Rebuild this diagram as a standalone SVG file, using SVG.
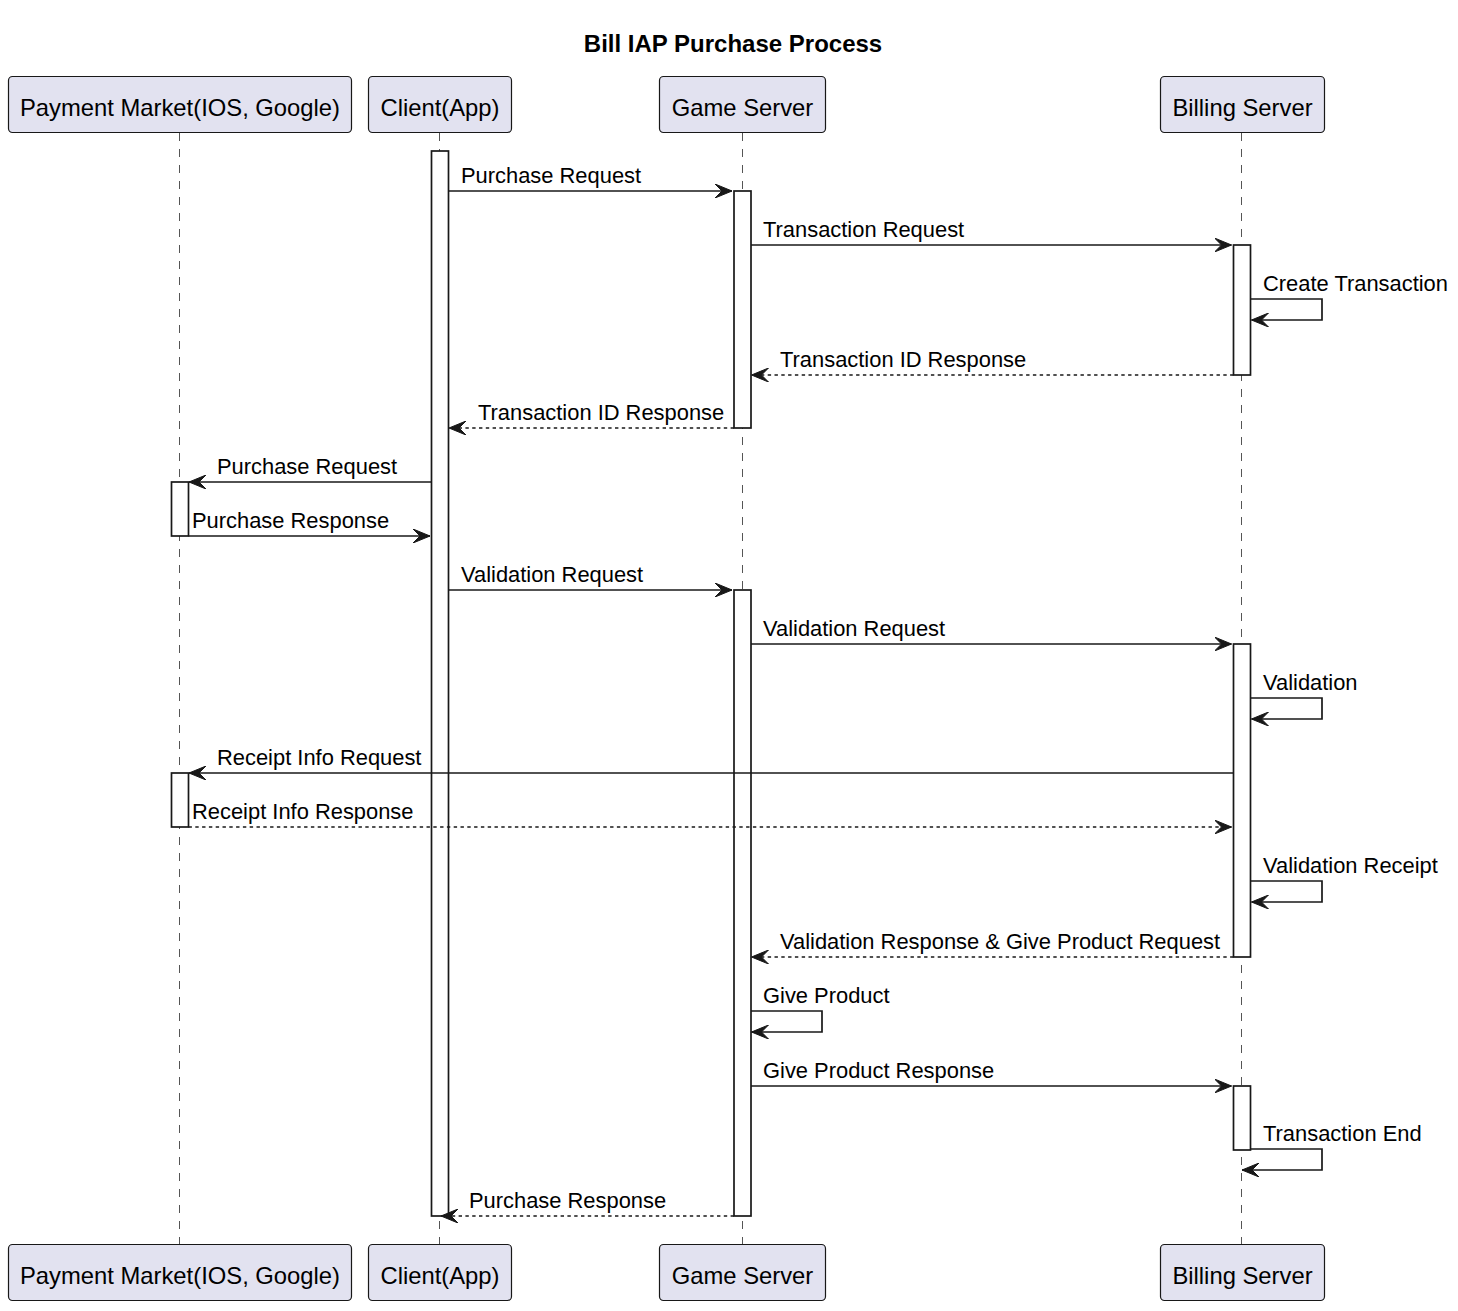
<svg xmlns="http://www.w3.org/2000/svg" width="1458" height="1311" viewBox="0 0 1458 1311">
<defs>
<style>
.part rect{fill:#E2E2F0;stroke:#181818;stroke-width:1.2}
.part text{font-family:"Liberation Sans",Arial,sans-serif;font-size:23.8px;fill:#000;text-anchor:middle}
.life{stroke:#555;stroke-width:1;stroke-dasharray:8,8;fill:none}
.act{fill:#fff;stroke:#181818;stroke-width:1.7}
.msg{stroke:#181818;stroke-width:1.7;fill:none}
.dash{stroke-dasharray:3.4,3.4}
.lbl{font-family:"Liberation Sans",Arial,sans-serif;font-size:21.9px;fill:#000}
.title{font-family:"Liberation Sans",Arial,sans-serif;font-size:24px;font-weight:bold;fill:#000;text-anchor:middle}
</style>
<marker id="ah" viewBox="0 0 18 14" refX="17" refY="7" markerWidth="18" markerHeight="14" markerUnits="userSpaceOnUse" orient="auto">
<polygon points="0,0 17,7 0,14 7,7" fill="#181818" stroke="#181818" stroke-width="1"/>
</marker>
</defs>
<rect width="1458" height="1311" fill="#fff"/>
<text class="title" x="733" y="52">Bill IAP Purchase Process</text>

<g id="lifelines">
<line class="life" x1="179.5" y1="133" x2="179.5" y2="1244"/>
<line class="life" x1="439.5" y1="133" x2="439.5" y2="1244"/>
<line class="life" x1="742.5" y1="133" x2="742.5" y2="1244"/>
<line class="life" x1="1241.5" y1="133" x2="1241.5" y2="1244"/>
</g>

<g id="p_payment" class="part">
<rect x="8.5" y="76.5" width="343" height="56" rx="4"/>
<text x="180" y="116">Payment Market(IOS, Google)</text>
<rect x="8.5" y="1244.5" width="343" height="56" rx="4"/>
<text x="180" y="1284">Payment Market(IOS, Google)</text>
</g>
<g id="p_client" class="part">
<rect x="368.5" y="76.5" width="143" height="56" rx="4"/>
<text x="440" y="116">Client(App)</text>
<rect x="368.5" y="1244.5" width="143" height="56" rx="4"/>
<text x="440" y="1284">Client(App)</text>
</g>
<g id="p_game" class="part">
<rect x="659.5" y="76.5" width="166" height="56" rx="4"/>
<text x="742.5" y="116">Game Server</text>
<rect x="659.5" y="1244.5" width="166" height="56" rx="4"/>
<text x="742.5" y="1284">Game Server</text>
</g>
<g id="p_billing" class="part">
<rect x="1160.5" y="76.5" width="164" height="56" rx="4"/>
<text x="1242.5" y="116">Billing Server</text>
<rect x="1160.5" y="1244.5" width="164" height="56" rx="4"/>
<text x="1242.5" y="1284">Billing Server</text>
</g>

<g id="activations">
<rect class="act" x="431.5" y="151" width="17" height="1065"/>
<rect class="act" x="734" y="191" width="17" height="237"/>
<rect class="act" x="1233.5" y="245" width="17" height="130"/>
<rect class="act" x="171.5" y="482" width="17" height="54"/>
<rect class="act" x="734" y="590" width="17" height="626"/>
<rect class="act" x="1233.5" y="644" width="17" height="313"/>
<rect class="act" x="171.5" y="773" width="17" height="54"/>
<rect class="act" x="1233.5" y="1086" width="17" height="64"/>
</g>

<g id="connectors">
<line class="msg" x1="448.5" y1="191" x2="732" y2="191" marker-end="url(#ah)"/>
<line class="msg" x1="751" y1="245" x2="1231.5" y2="245" marker-end="url(#ah)"/>
<polyline class="msg" points="1250.5,299 1322,299 1322,320 1251.5,320" marker-end="url(#ah)"/>
<line class="msg dash" x1="1233.5" y1="375" x2="751.5" y2="375" marker-end="url(#ah)"/>
<line class="msg dash" x1="734" y1="428" x2="449" y2="428" marker-end="url(#ah)"/>
<line class="msg" x1="431.5" y1="482" x2="189" y2="482" marker-end="url(#ah)"/>
<line class="msg" x1="188.5" y1="536" x2="430" y2="536" marker-end="url(#ah)"/>
<line class="msg" x1="448.5" y1="590" x2="732" y2="590" marker-end="url(#ah)"/>
<line class="msg" x1="751" y1="644" x2="1231.5" y2="644" marker-end="url(#ah)"/>
<polyline class="msg" points="1250.5,698 1322,698 1322,719 1251.5,719" marker-end="url(#ah)"/>
<line class="msg" x1="1233.5" y1="773" x2="189" y2="773" marker-end="url(#ah)"/>
<line class="msg dash" x1="188.5" y1="827" x2="1231.5" y2="827" marker-end="url(#ah)"/>
<polyline class="msg" points="1250.5,881 1322,881 1322,902 1251.5,902" marker-end="url(#ah)"/>
<line class="msg dash" x1="1233.5" y1="957" x2="751.5" y2="957" marker-end="url(#ah)"/>
<polyline class="msg" points="751,1011 822,1011 822,1032 751.5,1032" marker-end="url(#ah)"/>
<line class="msg" x1="751" y1="1086" x2="1231.5" y2="1086" marker-end="url(#ah)"/>
<polyline class="msg" points="1250.5,1149 1322,1149 1322,1170 1242,1170" marker-end="url(#ah)"/>
<line class="msg dash" x1="734" y1="1216" x2="441" y2="1216" marker-end="url(#ah)"/>
</g>

<g id="labels">
<text class="lbl" x="461" y="183">Purchase Request</text>
<text class="lbl" x="763" y="237">Transaction Request</text>
<text class="lbl" x="1263" y="291">Create Transaction</text>
<text class="lbl" x="780" y="367">Transaction ID Response</text>
<text class="lbl" x="478" y="420">Transaction ID Response</text>
<text class="lbl" x="217" y="474">Purchase Request</text>
<text class="lbl" x="192" y="528">Purchase Response</text>
<text class="lbl" x="461" y="582">Validation Request</text>
<text class="lbl" x="763" y="636">Validation Request</text>
<text class="lbl" x="1263" y="690">Validation</text>
<text class="lbl" x="217" y="765">Receipt Info Request</text>
<text class="lbl" x="192" y="819">Receipt Info Response</text>
<text class="lbl" x="1263" y="873">Validation Receipt</text>
<text class="lbl" x="780" y="949">Validation Response &amp; Give Product Request</text>
<text class="lbl" x="763" y="1003">Give Product</text>
<text class="lbl" x="763" y="1078">Give Product Response</text>
<text class="lbl" x="1263" y="1141">Transaction End</text>
<text class="lbl" x="469" y="1208">Purchase Response</text>
</g>
</svg>
